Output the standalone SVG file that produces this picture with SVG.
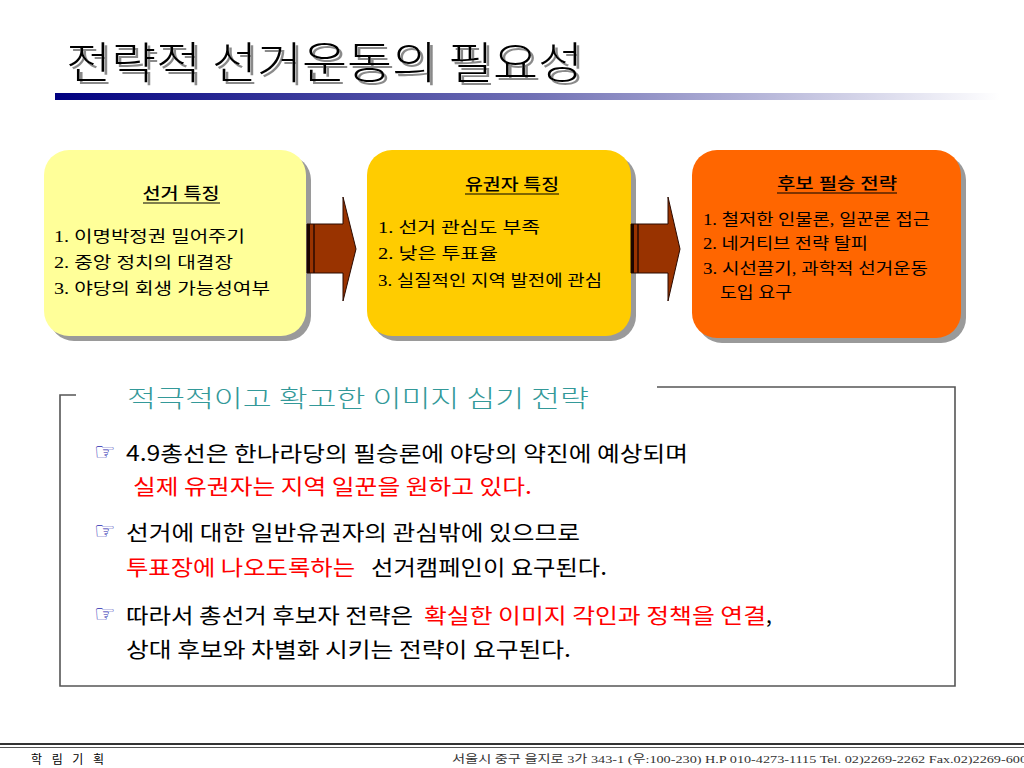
<svg xmlns="http://www.w3.org/2000/svg" width="1024" height="768" viewBox="0 0 1024 768">
<defs>
<linearGradient id="bar" x1="0" y1="0" x2="1" y2="0">
<stop offset="0" stop-color="#000080"/>
<stop offset="0.5" stop-color="#6f6fb4"/>
<stop offset="1" stop-color="#ffffff"/>
</linearGradient>
<filter id="tshadow" x="-5%" y="-20%" width="110%" height="150%">
<feDropShadow dx="3" dy="3" stdDeviation="0.6" flood-color="#8a8a8a" flood-opacity="1"/>
</filter>
</defs>
<style>
.kr{font-family:"Liberation Serif","Noto Sans CJK KR",serif;}
.ks{font-family:"Noto Sans CJK KR","Liberation Sans",sans-serif;}
.box-text{font-size:16px;fill:#000;}
.head{font-size:16px;fill:#000;font-weight:500;}
.shadow{fill:#9a9a9a;}
.arrow{fill:#993300;stroke:#2a0a00;stroke-width:1;}
.frame{stroke:#555;stroke-width:1.6;fill:none;}
.bul{font-size:21px;fill:#000;}
.red{fill:#ff0000;}
.hand{font-family:"DejaVu Sans",sans-serif;font-size:24px;fill:#2a2ab0;}
</style>
<rect width="1024" height="768" fill="#fff"/>

<g id="title">
<text class="ks" x="66" y="79" font-size="44" font-weight="300" fill="#000" filter="url(#tshadow)" textLength="517" lengthAdjust="spacingAndGlyphs">전략적 선거운동의 필요성</text>
<rect x="55" y="93" width="945" height="7" fill="url(#bar)"/>
</g>

<g id="node-election">
<rect class="shadow" x="49" y="155" width="262" height="186" rx="25"/>
<rect x="44" y="150" width="262" height="186" rx="25" fill="#ffff99"/>
<text class="kr head" x="181" y="199" text-anchor="middle" textLength="77" lengthAdjust="spacingAndGlyphs">선거 특징</text>
<line x1="143" y1="203" x2="220" y2="203" stroke="#000" stroke-width="1.2"/>
<text class="kr box-text" x="54" y="242" textLength="191" lengthAdjust="spacingAndGlyphs">1. 이명박정권 밀어주기</text>
<text class="kr box-text" x="54" y="268" textLength="179" lengthAdjust="spacingAndGlyphs">2. 중앙 정치의 대결장</text>
<text class="kr box-text" x="54" y="294" textLength="216" lengthAdjust="spacingAndGlyphs">3. 야당의 회생 가능성여부</text>
</g>

<g id="node-voter">
<rect class="shadow" x="372" y="155" width="264" height="186" rx="25"/>
<rect x="367" y="150" width="264" height="186" rx="25" fill="#ffcc00"/>
<text class="kr head" x="512" y="190" text-anchor="middle" textLength="94" lengthAdjust="spacingAndGlyphs">유권자 특징</text>
<line x1="465" y1="194" x2="559" y2="194" stroke="#000" stroke-width="1.2"/>
<text class="kr box-text" x="378" y="233" textLength="162" lengthAdjust="spacingAndGlyphs">1. 선거 관심도 부족</text>
<text class="kr box-text" x="378" y="259" textLength="120" lengthAdjust="spacingAndGlyphs">2. 낮은 투표율</text>
<text class="kr box-text" x="378" y="286" textLength="224" lengthAdjust="spacingAndGlyphs">3. 실질적인 지역 발전에 관심</text>
</g>

<g id="node-candidate">
<rect class="shadow" x="697" y="155" width="269" height="188" rx="25"/>
<rect x="692" y="150" width="269" height="188" rx="25" fill="#ff6600"/>
<text class="kr head" x="837" y="189" text-anchor="middle" textLength="120" lengthAdjust="spacingAndGlyphs">후보 필승 전략</text>
<line x1="777" y1="193" x2="897" y2="193" stroke="#000" stroke-width="1.2"/>
<text class="kr box-text" x="703" y="225" textLength="227" lengthAdjust="spacingAndGlyphs">1. 철저한 인물론, 일꾼론 접근</text>
<text class="kr box-text" x="703" y="249" textLength="165" lengthAdjust="spacingAndGlyphs">2. 네거티브 전략 탈피</text>
<text class="kr box-text" x="703" y="274" textLength="225" lengthAdjust="spacingAndGlyphs">3. 시선끌기, 과학적 선거운동</text>
<text class="kr box-text" x="720" y="298" textLength="72" lengthAdjust="spacingAndGlyphs">도입 요구</text>
</g>

<g id="connectors">
<polygon class="arrow" points="307,224 343,224 343,197 356,249 343,301 343,273 307,273"/>
<rect x="307" y="224" width="3" height="49" fill="#1a0500"/>
<line x1="314" y1="224" x2="314" y2="273" stroke="#2a0a00" stroke-width="1.5"/>
<polygon class="arrow" points="631,224 668,224 668,197 680,249 668,301 668,273 631,273"/>
<rect x="631" y="224" width="3" height="49" fill="#1a0500"/>
<line x1="638" y1="224" x2="638" y2="273" stroke="#2a0a00" stroke-width="1.5"/>
</g>

<g id="frame">
<polyline class="frame" points="76,395 60,395 60,686 955,686 955,387 657,387"/>
<text class="ks" x="127" y="407" font-size="24" font-weight="300" fill="#339999" textLength="462" lengthAdjust="spacingAndGlyphs">적극적이고 확고한 이미지 심기 전략</text>
</g>

<g id="bullets">
<text class="hand" x="94" y="460">☞</text>
<text class="ks bul" x="126" y="461" textLength="562" lengthAdjust="spacingAndGlyphs">4.9총선은 한나라당의 필승론에 야당의 약진에 예상되며</text>
<text class="ks bul red" x="133" y="494" textLength="399" lengthAdjust="spacingAndGlyphs">실제 유권자는 지역 일꾼을 원하고 있다.</text>

<text class="hand" x="94" y="539">☞</text>
<text class="ks bul" x="126" y="540" textLength="454" lengthAdjust="spacingAndGlyphs">선거에 대한 일반유권자의 관심밖에 있으므로</text>
<text class="ks bul red" x="126" y="575" textLength="229" lengthAdjust="spacingAndGlyphs">투표장에 나오도록하는</text>
<text class="ks bul" x="371" y="575" textLength="236" lengthAdjust="spacingAndGlyphs">선거캠페인이 요구된다.</text>

<text class="hand" x="94" y="622">☞</text>
<text class="ks bul" x="126" y="623" textLength="287" lengthAdjust="spacingAndGlyphs">따라서 총선거 후보자 전략은</text>
<text class="ks bul red" x="424" y="623" textLength="342" lengthAdjust="spacingAndGlyphs">확실한 이미지 각인과 정책을 연결</text>
<text class="ks bul" x="766" y="623">,</text>
<text class="ks bul" x="126" y="657" textLength="445" lengthAdjust="spacingAndGlyphs">상대 후보와 차별화 시키는 전략이 요구된다.</text>
</g>

<g id="footer">
<rect x="0" y="743" width="1024" height="2" fill="#333"/>
<rect x="0" y="747" width="1024" height="1" fill="#555"/>
<text class="kr" x="31" y="764" font-size="12" fill="#000" textLength="73" lengthAdjust="spacing">학 림 기 획</text>
<text class="kr" x="452" y="763" font-size="11" fill="#333" textLength="575" lengthAdjust="spacingAndGlyphs">서울시 중구 을지로 3가 343-1 (우:100-230) H.P 010-4273-1115  Tel. 02)2269-2262  Fax.02)2269-600</text>
</g>
</svg>
